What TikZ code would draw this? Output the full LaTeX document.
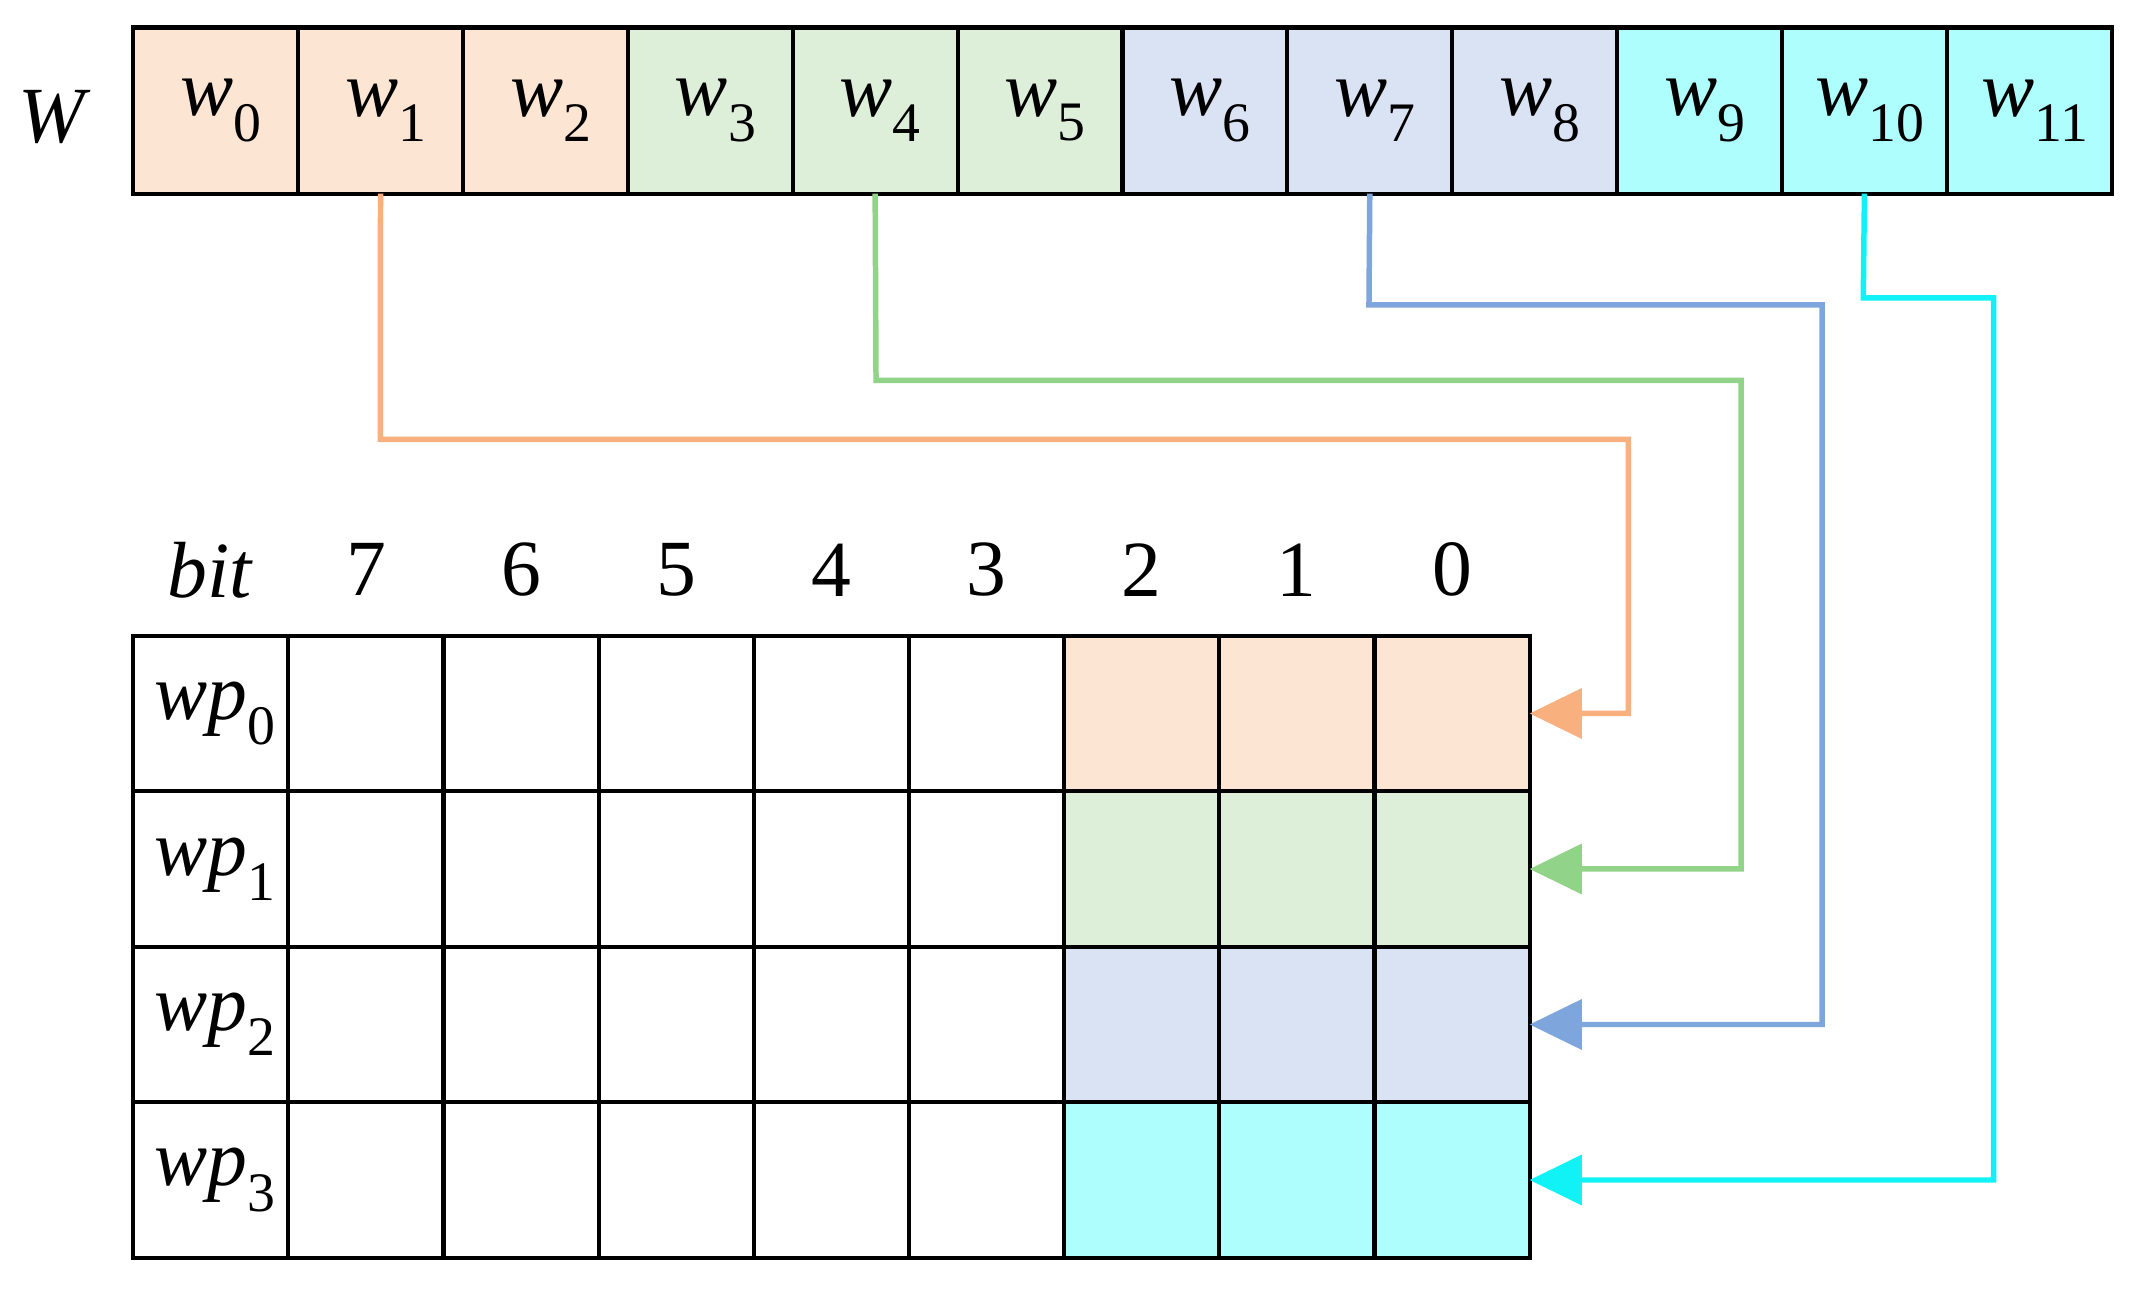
\documentclass[tikz,border=0pt]{standalone}
\usepackage{fontspec}
\setmainfont{Liberation Serif}
\usetikzlibrary{arrows.meta}
\definecolor{cor}{HTML}{FDE5D3}
\definecolor{cgr}{HTML}{DEEFD9}
\definecolor{cbl}{HTML}{DAE3F3}
\definecolor{ccy}{HTML}{AEFEFE}
\definecolor{lor}{HTML}{F8B07F}
\definecolor{lgr}{HTML}{92D38A}
\definecolor{lbl}{HTML}{7FA6DC}
\definecolor{lcy}{HTML}{11F2F7}
\begin{document}
\begin{tikzpicture}[x=1pt,y=-1pt,
 cell/.style={draw=black,line width=3pt,inner sep=0,outer sep=0,minimum width=120.08pt,minimum height=121pt,font=\fontsize{58}{58}\selectfont},
 gcell/.style={draw=black,line width=3pt,inner sep=0,outer sep=0,minimum width=113pt,minimum height=113.25pt,font=\fontsize{58}{58}\selectfont},
 lab/.style={font=\fontsize{58}{58}\selectfont,inner sep=0},
 conn/.style={line width=4pt},
 tip/.style={-{Triangle[length=38pt,width=36pt]}}]
\useasboundingbox (0,0) rectangle (1560,939);
\fill[white] (0,0) rectangle (1560,939);
\node[lab] (W) at (40,85) {\textit{W}};
\foreach \i/\c in {0/cor,1/cor,2/cor,3/cgr,4/cgr,5/cgr,6/cbl,7/cbl,8/cbl,9/ccy,10/ccy,11/ccy}{
  \node[cell,fill=\c] (w\i) at ({97+120.08*(\i+0.5)},80.5) {\raisebox{-12pt}{\hspace{8pt}\textit{w}\textsubscript{\i}}};
}
\node[lab] (bit) at (153,415) {\textit{bit}};
\foreach \b [count=\k from 1] in {7,6,5,4,3,2,1,0}{
  \node[lab] (b\b) at ({210+113*(\k-0.5)},415) {\b};
}
\foreach \r/\c in {0/cor,1/cgr,2/cbl,3/ccy}{
  \node[gcell] (p\r) at (153.5,{463+113.25*(\r+0.5)}) {\raisebox{-8pt}{\hspace{6pt}\textit{wp}\textsubscript{\r}}};
  \foreach \k in {1,...,8}{
    \ifnum\k>5 \def\ff{\c}\else\def\ff{white}\fi
    \node[gcell,fill=\ff] (g\r-\k) at ({210+113*(\k-0.5)},{463+113.25*(\r+0.5)}) {};
  }
}
\draw[conn,lor,tip] (w1.south) -- (277,320) -- (1186,320) |- (g0-8.east);
\draw[conn,lgr,tip] (w4.south) -- (638,277) -- (1268,277) |- (g1-8.east);
\draw[conn,lbl,tip] (w7.south) -- (997,222) -- (1327,222) |- (g2-8.east);
\draw[conn,lcy,tip] (w10.south) -- (1357,217) -- (1452,217) |- (g3-8.east);
\end{tikzpicture}
\end{document}
